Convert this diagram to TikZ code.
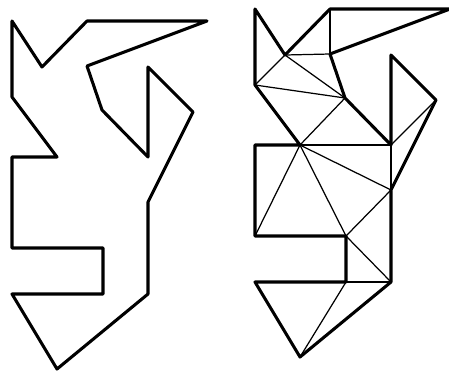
\documentclass[tikz,border=0pt]{standalone}
\usetikzlibrary{calc}
\tikzset{
  outline/.style={line width=1.75pt,line join=round,line cap=round},
  diag/.style={line width=0.7pt,line cap=round},
}
% vertices of the figure, relative to its top left corner
\newcommand\figpts{a/0/0,b/30/46,c/75/0,d/195/0,e/75/45,f/90/89,g/136/136,h/136/46,i/181/91,j/136/181,
  k/136/273,l/45/348,m/0/273,n/91/273,o/91/227,p/0/227,q/0/136,r/45/136,s/0/76}

\begin{document}
\begin{tikzpicture}[x=0.02cm,y=-0.02cm]
  \useasboundingbox (0,0) rectangle (449,373);
  \foreach \side/\dx/\dy in {l/12/21,r/255/9}
    \foreach \n/\x/\y in \figpts
      \coordinate (\side\n) at (\dx+\x,\dy+\y);
  \foreach \side in {l,r}
    \draw[outline] (\side a) -- (\side b) -- (\side c) -- (\side d) -- (\side e) -- (\side f) -- (\side g)
      -- (\side h) -- (\side i) -- (\side j) -- (\side k) -- (\side l) -- (\side m) -- (\side n)
      -- (\side o) -- (\side p) -- (\side q) -- (\side r) -- (\side s) -- cycle;
  % triangulation
  \foreach \u/\v in {b/e,c/e,b/s,b/f,s/f,f/r,r/g,g/i,r/j,g/j,r/p,r/o,o/j,o/k,n/k,n/l}
    \draw[diag] (r\u) -- (r\v);
\end{tikzpicture}
\end{document}
